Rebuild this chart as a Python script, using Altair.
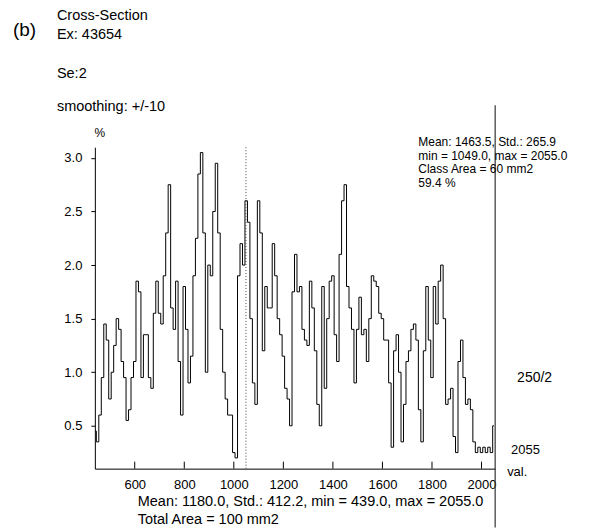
import altair as alt
import pandas as pd

# ---- data ----
x_vals = list(range(440, 2051, 10))
pct_vals = [
    0.45, 0.35, 0.6, 0.95, 1.45, 1.3, 0.75, 1.0, 1.25, 1.5,      # 440-530
    1.4, 1.1, 0.95, 0.55, 0.65, 0.95, 1.1, 1.85, 1.75, 0.95,     # 540-630
    1.35, 1.35, 0.95, 0.85, 1.55, 1.85, 1.55, 1.45, 1.9, 2.3,    # 640-730
    2.75, 1.6, 1.4, 1.85, 1.1, 0.6, 1.8, 1.4, 0.9, 1.15,         # 740-830
    1.9, 2.25, 2.85, 3.05, 2.3, 1.0, 2.0, 1.9, 2.5, 2.95,        # 840-930
    2.3, 1.4, 1.0, 0.75, 0.6, 0.6, 0.25, 0.2, 1.9, 2.2,          # 940-1030
    2.0, 2.6, 2.4, 1.5, 0.9, 0.7, 2.6, 2.3, 1.2, 1.8,            # 1040-1130
    1.6, 1.6, 2.2, 1.9, 1.5, 1.35, 1.15, 0.85, 0.75, 0.5,        # 1140-1230
    1.75, 2.1, 1.75, 1.8, 1.4, 1.3, 1.25, 1.85, 1.6, 1.2,        # 1240-1330
    0.7, 0.5, 1.8, 0.85, 1.5, 1.85, 1.9, 1.35, 1.1, 2.1,         # 1340-1430
    2.6, 2.75, 1.8, 1.6, 1.4, 0.9, 1.4, 1.7, 1.35, 1.4,          # 1440-1530
    1.1, 1.5, 1.9, 1.85, 1.8, 1.55, 1.5, 1.3, 1.3, 0.9,          # 1540-1630
    0.3, 1.2, 1.35, 1.0, 0.35, 0.7, 1.1, 1.2, 1.4, 1.45,         # 1640-1730
    1.3, 0.65, 0.35, 1.2, 1.8, 1.3, 0.95, 1.8, 1.45, 1.85,       # 1740-1830
    2.0, 1.5, 0.7, 0.75, 0.85, 0.4, 0.25, 1.1, 1.3, 0.95,        # 1840-1930
    0.7, 0.75, 0.65, 0.35, 0.25, 0.3, 0.25, 0.3, 0.25, 0.3,      # 1940-2030
    0.25, 0.5,                                                   # 2040-2050
]
x_ticks = [600, 800, 1000, 1200, 1400, 1600, 1800, 2000]
y_ticks = [0.5, 1.0, 1.5, 2.0, 2.5, 3.0]
x_domain = [439, 2055]
y_domain = [0.1, 3.1]
class_min = [1049]

header_lines = ["Cross-Section", "Ex: 43654", "Se:2", "smoothing: +/-10"]
class_lines = ["Mean: 1463.5, Std.: 265.9", "min = 1049.0, max = 2055.0",
               "Class Area = 60 mm2", "59.4 %"]
total_lines = ["Mean: 1180.0, Std.: 412.2, min = 439.0, max = 2055.0",
               "Total Area = 100 mm2"]

FONT = "Liberation Sans"
W, H = 401, 322

df = pd.DataFrame({"val": x_vals, "pct": pct_vals})
xs = alt.Scale(domain=x_domain, nice=False, zero=False)
ys = alt.Scale(domain=y_domain, nice=False, zero=False)

line = alt.Chart(df).mark_line(interpolate="step", color="black", strokeWidth=1).encode(
    x=alt.X("val:Q", scale=xs,
            axis=alt.Axis(values=x_ticks, title=None, ticks=False, labelPadding=10,
                          labelFontSize=13, labelFont=FONT, labelColor="black",
                          domainColor="black", labelFlush=False, labelOverlap=False,
                          format="d", grid=False)),
    y=alt.Y("pct:Q", scale=ys,
            axis=alt.Axis(values=y_ticks, format=".1f", title=None, tickSize=4,
                          tickColor="black", labelPadding=9, labelFontSize=13,
                          labelFont=FONT, labelColor="black", domainColor="black",
                          labelFlush=False, grid=False)),
)

xtick_rules = alt.Chart(pd.DataFrame({"t": x_ticks})).mark_rule(color="black", strokeWidth=1).encode(
    x=alt.X("t:Q", scale=xs), y=alt.value(H - 7), y2=alt.value(H))

dotted = alt.Chart(pd.DataFrame({"m": class_min})).mark_rule(
    color="#444", strokeWidth=1, strokeDash=[1, 2]).encode(
    x=alt.X("m:Q", scale=xs), y=alt.value(0), y2=alt.value(H))

one = pd.DataFrame({"a": [0]})
right_line = alt.Chart(one).mark_rule(color="#333", strokeWidth=1.2).encode(
    x=alt.value(W), y=alt.value(-42), y2=alt.value(381))


def txt(s, x, y, size=14, align="left"):
    return alt.Chart(one).mark_text(text=s, align=align, baseline="middle",
                                    fontSize=size, font=FONT, color="black").encode(
        x=alt.value(x), y=alt.value(y))


texts = [txt("(b)", -82, -117, 19)]
for s, y in zip(header_lines, [-131.5, -112, -73, -40]):
    texts.append(txt(s, -38, y, 14.5))
texts.append(txt("%", 5, -14, 12, "center"))
for s, y in zip(class_lines, [-5, 8.5, 22, 36]):
    texts.append(txt(s, 324, y, 12))
for s, y in zip(total_lines, [355, 373]):
    texts.append(txt(s, 43, y, 14.5))
texts.append(txt("250/2", 423, 231, 14))
texts.append(txt("2055", 417, 303, 13))
texts.append(txt("val.", 413, 325, 13))

chart = alt.layer(line, xtick_rules, dotted, right_line, *texts).properties(
    width=W, height=H,
    autosize=alt.AutoSizeParams(type="none"),
    padding={"left": 87, "top": 139, "right": 87, "bottom": 59},
).configure_view(stroke=None).configure_axis(grid=False)

chart.save("out.html", embed_options={"renderer": "svg", "actions": False})
